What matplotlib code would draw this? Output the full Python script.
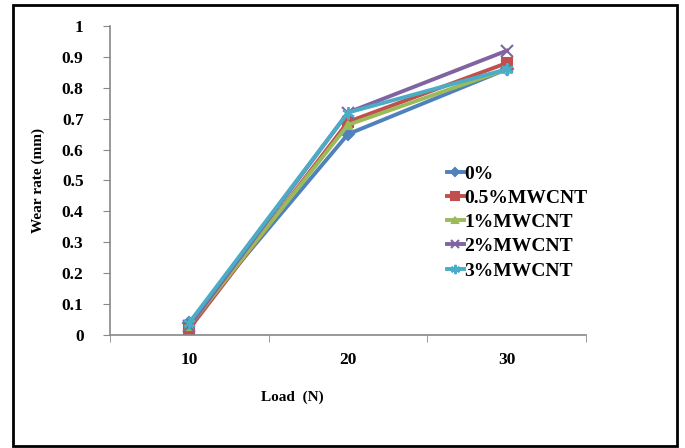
import matplotlib
matplotlib.use("Agg")
import matplotlib.pyplot as plt
from matplotlib.patches import Rectangle
import numpy as np

categories = ["10", "20", "30"]
series_names = ["0%", "0.5%MWCNT", "1%MWCNT", "2%MWCNT", "3%MWCNT"]
s0 = [0.04, 0.65, 0.86]
s05 = [0.02, 0.69, 0.88]
s1 = [0.03, 0.68, 0.86]
s2 = [0.03, 0.72, 0.92]
s3 = [0.04, 0.72, 0.86]
yticks = [0, 0.1, 0.2, 0.3, 0.4, 0.5, 0.6, 0.7, 0.8, 0.9, 1]
ytick_labels = ["0", "0.1", "0.2", "0.3", "0.4", "0.5", "0.6", "0.7", "0.8", "0.9", "1"]

plt.rcParams['font.family'] = ['Liberation Serif', 'DejaVu Serif']
plt.rcParams['font.weight'] = 'bold'

fig = plt.figure(figsize=(6.85, 4.48), dpi=100)
fig.patches.append(Rectangle((13/685, 2/448), 664/685, 441/448, transform=fig.transFigure,
                             fill=False, edgecolor='black', linewidth=2))

ax = fig.add_axes([110/685, 1-335/448, 476/685, 309/448])
x = np.arange(len(categories))
styles = [
    (s0, '#4F81BD', 'D', 6),
    (s05, '#C0504D', 's', 7),
    (s1, '#9BBB59', '^', 6),
    (s2, '#8064A2', 'x', 8),
    (s3, '#4BACC6', (6, 2, 0), 9),
]
for (vals, col, mk, ms), name in zip(styles, series_names):
    ax.plot(x, vals, color=col, linewidth=2.8, marker=mk, markersize=ms,
            markeredgecolor=col, markerfacecolor=col, markeredgewidth=1.5, label=name)

ax.set_xlim(-0.5, len(categories) - 0.5)
ax.set_ylim(0, 1)
ax.set_yticks(yticks)
ax.set_yticklabels(ytick_labels, fontsize=12.5, fontweight='bold')
ax.set_xticks(x)
ax.set_xticklabels(categories, fontsize=12.5, fontweight='bold')
ax.set_xticks(np.arange(-0.5, len(categories)), minor=True)
ax.tick_params(axis='x', which='major', length=0, pad=12)
ax.tick_params(axis='x', which='minor', length=5, color='#888888')
ax.tick_params(axis='y', length=5, color='#888888', pad=14)
for s in ['top', 'right']:
    ax.spines[s].set_visible(False)
for s in ['left', 'bottom']:
    ax.spines[s].set_color('#888888')
    ax.spines[s].set_linewidth(1.2)

ax.set_ylabel("Wear rate (mm)", fontsize=11, fontweight='bold', labelpad=12)
fig.text(292/685, 1-397/448, "Load  (N)", fontsize=11, fontweight='bold', ha='center', va='center')

leg = ax.legend(loc='upper left', bbox_to_anchor=(337/476, (335-165)/309), frameon=False,
                prop={'weight': 'bold', 'size': 14}, handlelength=0.85, handletextpad=0.05,
                labelspacing=0.34, borderaxespad=0, borderpad=0, markerscale=0.75)

fig.savefig("out.png", dpi=100)
